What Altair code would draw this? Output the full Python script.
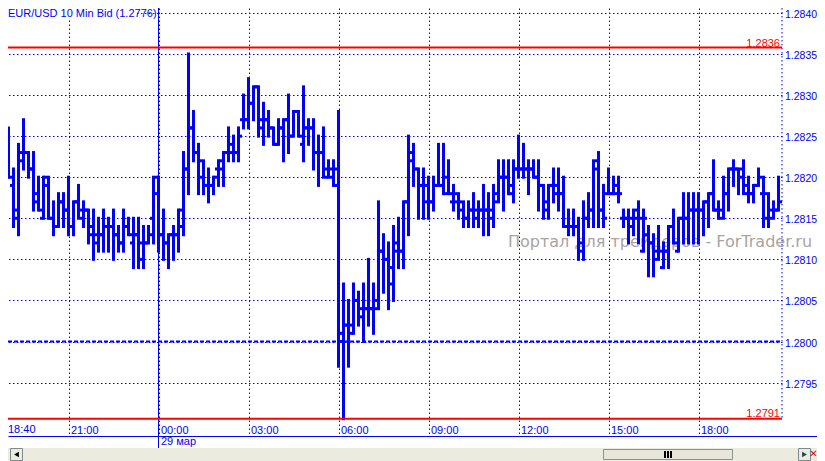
import altair as alt
import pandas as pd

# Prices are stored as pips above 1.2800
opens = [26,25,19,15,22,23,21,17,15,19,15,14,17,16,14,17,15,16,13,13,13,14,14,13,12,14,12,13,12,12,15,20,13,12,13,13,14,21,26,23,
         20,19,19,21,21,23,24,23,27,27,29,31,26,27,26,24,26,27,25,28,24,26,26,23,23,20,20,21,0,2,1,5,3,4,4,4,11,10,7,12,
         11,17,23,21,19,19,17,19,19,20,17,17,16,15,16,16,16,16,16,18,20,20,19,21,21,21,21,20,19,17,19,19,18,14,14,14,11,15,16,22,
         16,18,18,19,15,15,15,16,11,13,12,11,9,11,14,11,15,15,16,16,16,17,18,16,16,18,21,21,21,18,18,19,18,15,16,16]
highs = [28,26,21,24,27,23,23,20,20,20,17,18,18,20,17,19,17,16,16,15,16,15,16,14,16,15,15,15,14,14,20,20,16,13,14,16,23,35,28,24,
         22,21,20,22,23,26,25,26,30,32,31,31,29,28,26,27,27,30,28,28,31,27,27,25,26,22,22,28,7,5,7,6,7,10,7,17,13,12,14,15,
         17,25,24,21,21,20,20,24,24,22,19,18,17,17,18,17,19,18,19,22,22,22,22,25,24,22,22,22,19,19,21,21,20,16,16,15,17,18,22,23,
         19,21,20,20,16,16,16,17,16,14,13,14,12,14,16,15,18,18,18,18,17,18,22,17,20,21,22,21,22,20,19,21,20,18,17,20]
lows = [24,20,14,13,21,20,16,16,15,15,13,14,14,13,13,15,14,12,10,11,11,11,10,11,11,13,9,9,9,12,12,11,10,9,10,11,13,18,22,18,
        18,17,18,19,19,22,22,22,26,26,27,25,24,25,24,24,22,23,25,25,22,24,21,19,20,20,19,-3,-9.4,-3,1,2,0,2,1,4,6,4,5,9,
        9,13,19,15,15,15,16,19,18,18,16,15,14,14,14,14,13,13,14,17,16,18,17,20,20,18,20,16,15,15,17,16,14,13,13,10,10,14,14,14,
        14,18,18,17,14,12,13,12,11,8,8,10,9,9,12,11,12,12,12,12,13,14,16,15,15,16,19,18,18,17,17,19,14,14,15,16]
closes = [25,20,16,23,23,21,18,16,20,15,14,17,16,14,17,16,16,14,12,13,14,14,13,12,14,13,13,10,12,13,18,13,12,13,13,16,21,26,23,22,
          19,19,20,22,23,23,23,25,27,29,31,27,27,26,24,26,27,25,28,25,26,26,23,23,21,21,19,1,2,2,5,4,4,4,5,11,10,9,11,11,
          17,22,21,19,17,17,19,19,18,18,18,17,15,16,15,16,16,15,17,20,20,18,21,21,21,21,20,19,16,19,18,18,14,14,14,12,15,16,21,16,
          15,18,18,18,15,14,15,15,15,12,10,11,11,14,12,15,15,16,16,16,17,18,16,15,18,21,21,20,19,18,19,20,18,15,16,17]

time_ticks = [13, 31, 49, 67, 85, 103, 121, 139]
time_labels = ["21:00", "00:00", "03:00", "06:00", "09:00", "12:00", "15:00", "18:00"]
price_ticks = [1.2795, 1.28, 1.2805, 1.281, 1.2815, 1.282, 1.2825, 1.283, 1.2835, 1.284]
high_level, low_level, mid_level = 1.28358, 1.27906, 1.28

BLUE = "#0000ff"
RED = "#ff0000"
FONT = "Liberation Sans"

df = pd.DataFrame({"i": range(len(opens)), "o": opens, "h": highs, "l": lows, "c": closes})
for col in "ohlc":
    df[col] = 1.28 + df[col] / 10000
df["ol"] = df["i"] - 0.7
df["cr"] = df["i"] + 0.7

xs = alt.Scale(domain=[0.9, 155.7], nice=False, zero=False)
ys = alt.Scale(domain=[1.27885, 1.2840596], nice=False, zero=False)
one = pd.DataFrame({"a": [0]})

x_axis = alt.Axis(
    values=time_ticks, labelExpr="[" + ",".join(f"'{t}'" for t in time_labels) + "][(datum.value-13)/18]",
    title=None, grid=True, gridColor=BLUE, gridDash=[1.5, 2.5], gridOpacity=1, ticks=False, domain=True, domainColor=BLUE,
    labelAlign="left", labelBaseline="bottom", labelPadding=-1, labelOffset=2, labelColor=BLUE, labelFont=FONT,
    labelFontSize=11, labelFlush=False, labelOverlap=False)
y_axis = alt.Axis(
    orient="right", values=price_ticks, format=".4f", title=None, grid=True, gridColor=BLUE, gridDash=[1.5, 2.5],
    gridOpacity=1, gridWidth=1.2, ticks=False, domain=False, labelPadding=2.5, labelOffset=1.5, labelColor=BLUE,
    labelFont=FONT, labelFontSize=10.5, labelOverlap=False, labelFlush=False)


def rect(x, x2, y, y2, fill, stroke=None):
    kw = {"fill": fill}
    if stroke:
        kw.update(stroke=stroke, strokeWidth=1)
    return alt.Chart(one).mark_rect(**kw).encode(x=alt.value(x), x2=alt.value(x2), y=alt.value(y), y2=alt.value(y2))


def label(text, x, y, color=BLUE, size=11, align="left", font=FONT, baseline="middle"):
    return alt.Chart(one).mark_text(text=text, color=color, fontSize=size, align=align, font=font, baseline=baseline).encode(
        x=alt.value(x), y=alt.value(y))


def hline(value, color, width, dash=None):
    kw = {"color": color, "strokeWidth": width}
    if dash:
        kw["strokeDash"] = dash
    return alt.Chart(pd.DataFrame({"v": [value]})).mark_rule(**kw).encode(
        y=alt.Y("v:Q", scale=ys, axis=y_axis), x=alt.value(0), x2=alt.value(774))


stems = alt.Chart(df).mark_rule(color=BLUE, strokeWidth=3, strokeCap="square", clip=True).encode(
    x=alt.X("i:Q", scale=xs, axis=x_axis), y=alt.Y("h:Q", scale=ys, axis=y_axis), y2="l:Q")
open_ticks = alt.Chart(df).mark_rule(color=BLUE, strokeWidth=3, clip=True).encode(
    x=alt.X("ol:Q", scale=xs, axis=x_axis), x2="i:Q", y=alt.Y("o:Q", scale=ys, axis=y_axis))
close_ticks = alt.Chart(df).mark_rule(color=BLUE, strokeWidth=3, clip=True).encode(
    x=alt.X("i:Q", scale=xs, axis=x_axis), x2="cr:Q", y=alt.Y("c:Q", scale=ys, axis=y_axis))

session = alt.Chart(pd.DataFrame({"v": [31]})).mark_rule(color=BLUE, strokeWidth=1).encode(
    x=alt.X("v:Q", scale=xs, axis=x_axis), y=alt.value(0), y2=alt.value(440))

layers = [
    label("Портал для трейдеров - ForTrader.ru", 500, 234, color="#aba2a2", size=16, font="DejaVu Sans"),
    alt.Chart(one).mark_rule(color=BLUE, strokeDash=[1.5, 2.5]).encode(x=alt.value(774), y=alt.value(0), y2=alt.value(412)),
    alt.Chart(one).mark_rule(color=BLUE).encode(x=alt.value(774), x2=alt.value(809), y=alt.value(428.5)),
    stems, open_ticks, close_ticks, session,
    hline(high_level, RED, 2), hline(low_level, RED, 2), hline(mid_level, BLUE, 2, [4, 2]),
    label("1.2836", 772, 36, color=RED, align="right"),
    label("1.2791", 772, 406, color=RED, align="right"),
    rect(0, 128, 0, 11, "#ffffff"),
    label("EUR/USD 10 Min Bid (1.2776)", 0, 6),
    label("18:40", 0, 422),
    label("29 мар", 153, 434),
    rect(0, 809, 440, 453, "#ecebe0"),
    rect(595.5, 724.5, 441.5, 451.5, "#e8e6da", "#8c9090"),
    rect(656, 658, 443, 450, "#000000"), rect(659, 661, 443, 450, "#000000"), rect(662, 664, 443, 450, "#000000"),
    rect(2.5, 14.5, 440.5, 452.5, "#ecebe0", "#7f8a90"),
    rect(790.5, 802.5, 440.5, 452.5, "#ecebe0", "#7f8a90"),
    alt.Chart(one).mark_point(shape="triangle-left", filled=True, color="#000000", size=30, opacity=1).encode(x=alt.value(8.5), y=alt.value(446.5)),
    alt.Chart(one).mark_point(shape="triangle-right", filled=True, color="#24404f", size=30, opacity=1).encode(x=alt.value(796.5), y=alt.value(446.5)),
    label("✕", 805.5, 446, color="#cc1111", size=10, align="center", font="DejaVu Sans"),
]

chart = alt.layer(*layers).resolve_scale(x="shared", y="shared").properties(
    width=774, height=428, background="#ffffff",
    autosize=alt.AutoSizeParams(type="none"),
    padding={"left": 0, "top": 0, "right": 35, "bottom": 25},
).configure_view(stroke=None)

chart.save("out.html", embed_options={"renderer": "svg", "actions": False})
